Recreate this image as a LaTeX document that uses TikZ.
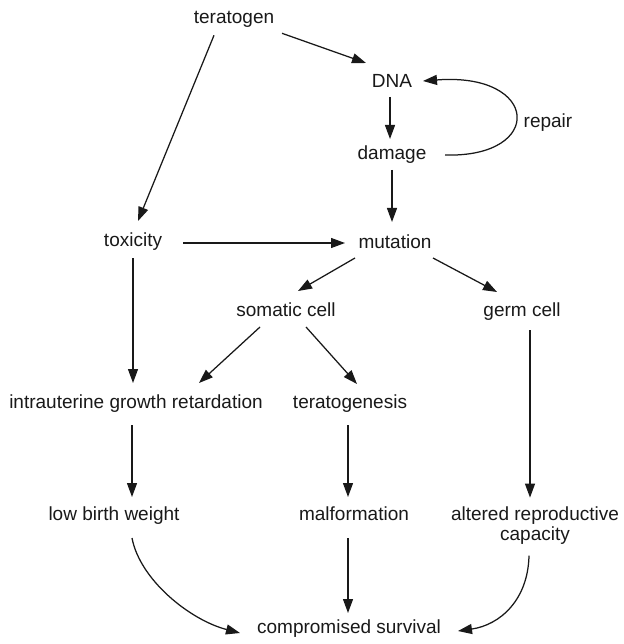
\documentclass[tikz,border=0pt]{standalone}
\usepackage{fontspec}
\setmainfont{Liberation Sans}
\usetikzlibrary{arrows.meta,calc}
\begin{document}
\begin{tikzpicture}[x=1pt,y=-1pt,
  txt/.style={font=\fontsize{19}{20}\selectfont, inner sep=3pt, text=black!90},
  lbl/.style={txt, text height=13.5pt, text depth=4pt},
  arr/.style={line width=1.25pt, draw=black!90, -{Triangle[length=14pt,width=10pt]}},
  ]
\fill[white] (0,0) rectangle (623,644);
\useasboundingbox (0,0) rectangle (623,644);
% nodes
\node[lbl] (ter)  at (234,18.3)  {teratogen};
\node[lbl] (dna)  at (392,82.5)  {DNA};
\node[lbl] (dmg)  at (392,154.5) {damage};
\node[lbl] (rep)  at (548,123)   {repair};
\node[lbl] (tox)  at (133,241.5) {toxicity};
\node[lbl] (mut)  at (395,243.5) {mutation};
\node[lbl] (som)  at (286,312)   {somatic cell};
\node[lbl] (germ) at (522,312)   {germ cell};
\node[lbl] (iugr) at (136,403.5) {intrauterine growth retardation};
\node[lbl] (terg) at (350,403.5) {teratogenesis};
\node[lbl] (lbw)  at (114,515.5) {low birth weight};
\node[lbl] (malf) at (354,515.5) {malformation};
\node[txt, align=center, anchor=north] (alt) at (535,503.6) {altered reproductive\\capacity};
\node[lbl] (comp) at (349,628.5) {compromised survival};
% connectors
\draw[arr] ($(ter)+(48,15)$) -- ($(dna)+(-26,-19.5)$);
\draw[arr] ($(ter)+(-20,17)$) -- ($(tox)+(5,-20.5)$);
\draw[arr] ($(dna)+(-2,14.5)$) -- ($(dmg)+(-2,-15.5)$);
\draw[arr] ($(dmg)+(0,15.5)$) -- ($(mut)+(-3,-21.5)$);
\draw[arr] ($(dmg)+(53,0.5)$) .. controls (545,158) and (540,72) .. ($(dna)+(31,-1.5)$);
\draw[arr] ($(tox)+(50,1.5)$) -- ($(mut)+(-50,-0.5)$);
\draw[arr] ($(tox)+(0,16.5)$) -- ($(iugr)+(-3,-20.5)$);
\draw[arr] ($(mut)+(-40,14.5)$) -- ($(som)+(12,-21)$);
\draw[arr] ($(mut)+(38,14.5)$) -- ($(germ)+(-25,-20)$);
\draw[arr] ($(som)+(-26,15)$) -- ($(iugr)+(63,-20.5)$);
\draw[arr] ($(som)+(20,15)$) -- ($(terg)+(7,-19.5)$);
\draw[arr] ($(iugr)+(-4,21.5)$) -- ($(lbw)+(18,-18.5)$);
\draw[arr] ($(terg)+(-2,21.5)$) -- ($(malf)+(-6,-18.5)$);
\draw[arr] ($(germ)+(8,18)$) -- ($(alt.north)+(-5,-6)$);
\draw[arr] ($(malf)+(-6,22.5)$) -- ($(comp)+(-1,-15.5)$);
\draw[arr] ($(lbw)+(18,22.5)$) .. controls (140,580) and (190,620) .. ($(comp)+(-109,4.5)$);
\draw[arr] ($(alt.south)+(-6,8)$) .. controls (528,600) and (500,625) .. ($(comp)+(109,2.5)$);
\end{tikzpicture}
\end{document}
